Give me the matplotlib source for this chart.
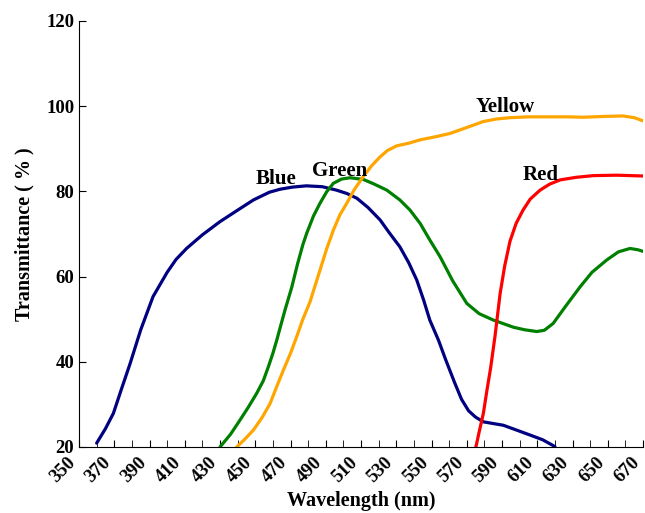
import matplotlib
matplotlib.use("Agg")
import matplotlib.pyplot as plt
from matplotlib.ticker import MultipleLocator

plt.rcParams['font.family'] = ['Liberation Serif', 'DejaVu Serif']
plt.rcParams['font.weight'] = 'bold'

blue_x = [360, 365, 369.5, 374, 379, 385, 392, 400, 405, 411, 420, 430, 440, 449, 458, 464, 471, 479, 488, 496, 502, 507.6, 514, 520.8, 526, 532, 537, 541.6, 545.5, 549, 554, 558, 563, 567, 571, 575, 579.4, 585, 590.7, 598, 605.9, 613, 620]
blue_y = [20.9, 24.3, 27.9, 33.5, 39.6, 47.5, 55.3, 61, 64, 66.6, 69.8, 72.9, 75.6, 78, 79.8, 80.5, 81.0, 81.3, 81.1, 80.3, 79.5, 78.4, 76.2, 73.3, 70.3, 67, 63.3, 59.2, 54.5, 49.8, 45, 40.5, 35.2, 31.2, 28.5, 27, 25.9, 25.5, 25.1, 24, 22.8, 21.7, 20.1]

green_x = [430, 436, 441.3, 446, 450.8, 454.5, 457.4, 460, 462.2, 464.5, 466.9, 470.7, 474, 477, 479.2, 483, 486.7, 490.5, 494.3, 499, 503.8, 511.3, 517, 524.6, 532, 537.8, 543.5, 549, 554.8, 562, 570, 577, 585, 596.5, 603, 609.7, 614, 619, 626, 634.3, 641, 649.4, 656, 662.6, 667, 671]
green_y = [20, 23, 26.3, 29.3, 32.6, 35.5, 38.8, 42, 45.1, 48.6, 52.2, 57.5, 63, 67.5, 70.2, 74.2, 77.2, 79.9, 81.9, 82.9, 83.2, 82.8, 81.8, 80.3, 78, 75.6, 72.5, 68.6, 64.7, 59, 53.7, 51.3, 49.8, 48.1, 47.5, 47.1, 47.4, 49, 53, 57.6, 61, 63.9, 65.8, 66.6, 66.3, 65.8]

yellow_x = [439.5, 444, 449, 454, 458.4, 462, 466, 470, 473.5, 477, 481, 486.7, 490.5, 494.3, 498, 501.9, 506, 511.3, 516, 520.8, 525, 530.3, 537, 543.5, 552, 560.5, 570, 579.4, 587, 594.5, 605, 617.2, 627, 636, 648, 658.8, 665, 671]
yellow_y = [20, 21.8, 24, 27, 30.2, 34, 38.1, 42, 45.9, 50, 54, 61.5, 66.5, 70.9, 74.5, 77.2, 80.3, 83.5, 86, 88.1, 89.6, 90.7, 91.3, 92.1, 92.8, 93.6, 95, 96.4, 97.0, 97.3, 97.5, 97.5, 97.5, 97.4, 97.6, 97.7, 97.3, 96.4]

red_x = [575, 577, 579.4, 581.5, 583.5, 586, 588.9, 591.5, 594.5, 598, 601.9, 606, 611.6, 617, 623, 632, 641.8, 655, 671]
red_y = [19.7, 23.5, 27.9, 33.5, 38.5, 46, 56, 62.5, 68.3, 72.5, 75.6, 78.2, 80.3, 81.7, 82.7, 83.3, 83.7, 83.8, 83.6]

curve_labels = ['Blue', 'Green', 'Yellow', 'Red']
label_x = [461.7, 498.1, 591.9, 611.6]
label_y = [81.7, 83.7, 98.7, 82.7]
colors = ['#000080', '#008000', '#FFA500', '#FF0000']

fig = plt.figure(figsize=(6.45, 5.13), dpi=100)
ax = fig.add_axes([0.1225, 0.1287, 0.8745, 0.8304])

for xs, ys, c in [(blue_x, blue_y, colors[0]), (green_x, green_y, colors[1]),
                  (yellow_x, yellow_y, colors[2]), (red_x, red_y, colors[3])]:
    ax.plot(xs, ys, color=c, lw=2.3, solid_capstyle='round', solid_joinstyle='round')

for t, lx, ly in zip(curve_labels, label_x, label_y):
    ax.text(lx, ly, t, ha='center', va='baseline', fontsize=15, fontweight='bold')

ax.set_xlim(350, 670)
ax.set_ylim(20, 120)
ax.set_xticks(list(range(350, 671, 20)))
ax.xaxis.set_minor_locator(MultipleLocator(10))
ax.set_yticks(list(range(20, 121, 20)))
ax.tick_params(axis='both', which='both', direction='in', labelsize=13.5)
ax.tick_params(axis='both', which='major', length=5)
ax.tick_params(axis='x', which='minor', length=5)
ax.tick_params(axis='x', which='major', pad=5)
for lab in ax.get_xticklabels():
    lab.set_rotation(45)
    lab.set_ha('right')
    lab.set_va('top')
    lab.set_fontweight('bold')
for lab in ax.get_yticklabels():
    lab.set_fontweight('bold')

ax.spines['top'].set_visible(False)
ax.spines['right'].set_visible(False)
ax.set_xlabel('Wavelength (nm)', fontsize=14.5, fontweight='bold', labelpad=4)
ax.set_ylabel('Transmittance ( % )', fontsize=14.5, fontweight='bold', labelpad=8)

fig.savefig('out.png', dpi=100)
